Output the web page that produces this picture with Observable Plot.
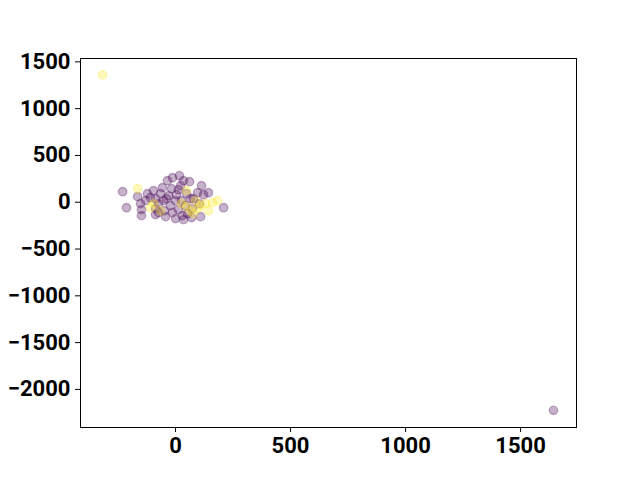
<!DOCTYPE html>
<html>
<head>
<meta charset="utf-8">
<script src="https://cdn.jsdelivr.net/npm/d3@7"></script>
<script src="https://cdn.jsdelivr.net/npm/@observablehq/plot@0.6"></script>
<style>
  html, body { margin: 0; padding: 0; background: #fff; }
  #chart { width: 640px; height: 480px; }
</style>
</head>
<body>
<div id="chart"></div>
<script>
// Class 0 (purple) points
const purpleX = [-230, -213, -165, -152, -148, -148, -122, -109, -96, -87, -87, -87, -74, -65, -57, -52, -48, -43, -35, -30, -22, -17, -13, -13, 0, 0, 4, 13, 17, 22, 26, 30, 35, 43, 48, 52, 61, 65, 70, 74, 96, 104, 113, 122, 109, 143, 209, 35, -130, -39, 13, -74, 78, 1643];
const purpleY = [113, -58, 60, -15, -79, -143, 92, 49, 124, 38, -68, -132, -15, 92, 156, 17, -90, -154, 230, 70, -36, 145, 262, -111, 17, -175, 81, -79, 284, 177, 17, -143, 230, -36, 92, -122, 220, 38, -164, -68, 102, -15, 177, 81, -154, 102, -58, -186, 17, 38, 134, -111, 38, -2224];
// Class 1 (yellow) points
const yellowX = [-165, -109, -96, 48, 26, 48, 65, 78, 96, 109, 130, 143, 161, 183, 87, -65, -317];
const yellowY = [145, -58, -15, 124, -15, -47, -90, -122, -68, -36, -15, -90, -4, 17, 17, -90, 1361];

const xTicks = [0, 500, 1000, 1500];
const yTicks = [-2000, -1500, -1000, -500, 0, 500, 1000, 1500];

const purpleColor = "#440154";
const yellowColor = "#fde725";

const points = [
  ...purpleX.map((x, i) => ({x, y: purpleY[i], c: purpleColor})),
  ...yellowX.map((x, i) => ({x, y: yellowY[i], c: yellowColor}))
];

const fmt = d3.format("d");
const tickFont = {fontSize: 22, fontWeight: "bold", fontFamily: "Roboto"};

const chart = Plot.plot({
  width: 640,
  height: 480,
  marginLeft: 80,
  marginRight: 64,
  marginTop: 58,
  marginBottom: 53,
  style: {background: "#fff", color: "#000", fontFamily: "Roboto"},
  x: {domain: [-413, 1743]},
  y: {domain: [-2407, 1536]},
  marks: [
    Plot.frame({stroke: "#000", strokeWidth: 1}),
    Plot.dot(points, {
      x: "x", y: "y", r: 4.2,
      fill: "c", fillOpacity: 0.3,
      stroke: "c", strokeOpacity: 0.3, strokeWidth: 1.4
    }),
    Plot.axisX({ticks: xTicks, tickFormat: fmt, tickSize: 5, tickPadding: 5, label: null, stroke: "#000", fill: "#000", ...tickFont}),
    Plot.axisY({ticks: yTicks, tickFormat: fmt, tickSize: 5, tickPadding: 5, label: null, stroke: "#000", fill: "#000", ...tickFont})
  ]
});
document.getElementById("chart").appendChild(chart);
</script>
</body>
</html>
